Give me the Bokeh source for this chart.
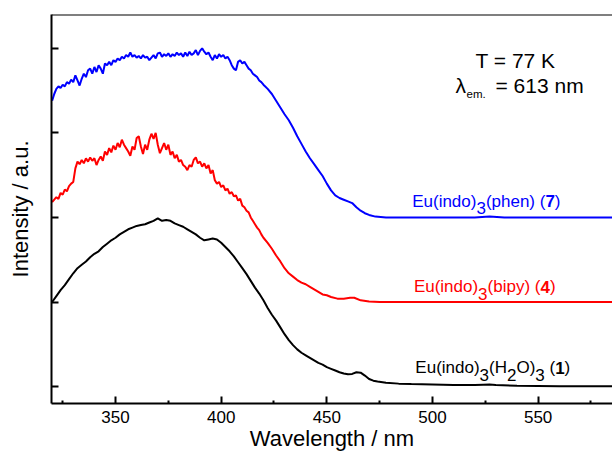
from bokeh.plotting import figure
from bokeh.models import Range1d, FixedTicker, Label, Span
from bokeh.embed import file_html
from bokeh.resources import INLINE

# ---------------- data ----------------
# Eu(indo)3(phen) (7) - blue, offset baseline 2
blue_wl = list(range(320, 421)) + [422, 424, 426, 428, 430, 432, 434, 436, 438, 440,
                                   442, 444, 446, 448, 450, 452, 454, 456, 458, 460,
                                   462, 464, 466, 468, 470, 473, 478, 500, 520, 527, 534, 586]
blue_int = [3.38, 3.46, 3.52, 3.55, 3.53, 3.57, 3.55, 3.60, 3.58, 3.63,
            3.60, 3.68, 3.62, 3.56, 3.64, 3.70, 3.66, 3.74, 3.76, 3.70,
            3.78, 3.72, 3.80, 3.76, 3.70, 3.82, 3.80, 3.84, 3.80, 3.86,
            3.84, 3.88, 3.86, 3.90, 3.88, 3.92, 3.90, 3.95, 3.90, 3.92,
            3.89, 3.91, 3.88, 3.92, 3.89, 3.90, 3.86, 3.89, 3.92, 3.88,
            3.94, 3.95, 3.90, 3.93, 3.91, 3.94, 3.90, 3.93, 3.91, 3.95,
            3.92, 3.94, 3.90, 3.95, 3.91, 3.96, 3.92, 3.94, 3.98, 3.92,
            3.97, 4.00, 3.96, 3.93, 3.95, 3.90, 3.86, 3.92, 3.88, 3.93,
            3.90, 3.92, 3.88, 3.90, 3.86, 3.80, 3.76, 3.74, 3.84, 3.86,
            3.82, 3.84, 3.80, 3.76, 3.74, 3.70, 3.68, 3.66, 3.62, 3.60,
            3.57,
            3.52, 3.46, 3.38, 3.30, 3.22, 3.15, 3.06, 2.96, 2.87, 2.78,
            2.70, 2.63, 2.56, 2.49, 2.40, 2.32, 2.26, 2.23, 2.21, 2.19,
            2.17, 2.12, 2.08, 2.05, 2.03, 2.01, 2.00, 2.00, 2.00, 2.012, 2.00, 2.00]

# Eu(indo)3(bipy) (4) - red, offset baseline 1
red_wl = list(range(320, 421)) + [422, 424, 426, 428, 430, 432, 434, 436, 438, 440,
                                  442, 444, 446, 448, 450, 452, 455, 458, 461, 463,
                                  466, 470, 475, 500, 525, 586]
red_int = [2.18, 2.21, 2.24, 2.22, 2.29, 2.27, 2.33, 2.31, 2.37, 2.40,
           2.42, 2.58, 2.66, 2.63, 2.68, 2.64, 2.70, 2.66, 2.71, 2.67,
           2.70, 2.62, 2.68, 2.72, 2.67, 2.78, 2.74, 2.82, 2.77, 2.85,
           2.80, 2.88, 2.83, 2.92, 2.86, 2.82, 2.78, 2.73, 2.84, 2.80,
           2.94, 2.96, 2.84, 2.75, 2.86, 2.80, 2.92, 2.99, 2.93, 3.00,
           2.86, 2.76, 2.82, 2.88, 2.80, 2.86, 2.74, 2.78, 2.70, 2.74,
           2.66, 2.68, 2.62, 2.60, 2.56, 2.62, 2.60, 2.68, 2.71, 2.64,
           2.66, 2.60, 2.64, 2.58, 2.62, 2.52, 2.56, 2.44, 2.40, 2.42,
           2.36, 2.38, 2.32, 2.34, 2.28, 2.30, 2.25, 2.26, 2.20, 2.22,
           2.14, 2.12, 2.08, 2.06, 2.00, 1.96, 1.92, 1.88, 1.85, 1.80,
           1.76,
           1.70, 1.63, 1.55, 1.48, 1.40, 1.34, 1.30, 1.26, 1.23, 1.21,
           1.18, 1.15, 1.12, 1.09, 1.08, 1.06, 1.04, 1.04, 1.05, 1.05,
           1.02, 1.005, 1.00, 1.00, 1.00, 1.00]

# Eu(indo)3(H2O)3 (1) - black, baseline 0
black_wl = [320, 322, 324, 326, 328, 330, 332, 334, 336, 338,
            340, 342, 344, 346, 348, 350, 352, 354, 356, 358,
            360, 362, 364, 366, 368, 370, 372, 374, 376, 378,
            380, 382, 384, 386, 388, 390, 392, 394, 396, 398,
            400, 402, 404, 406, 408, 410, 412, 414, 416, 418,
            420, 422, 424, 426, 428, 430, 432, 434, 436, 438,
            440, 442, 444, 446, 448, 450, 452, 454, 456, 458,
            460, 462, 464, 466, 468, 470, 472, 474, 478, 484,
            490, 500, 510, 520, 524, 527, 530, 540, 560, 586]
black_int = [1.00, 1.07, 1.14, 1.20, 1.27, 1.34, 1.40, 1.44, 1.48, 1.53,
             1.57, 1.60, 1.65, 1.69, 1.73, 1.76, 1.80, 1.83, 1.86, 1.88,
             1.90, 1.91, 1.92, 1.94, 1.96, 1.99, 1.96, 1.97, 1.96, 1.93,
             1.91, 1.89, 1.86, 1.83, 1.80, 1.76, 1.73, 1.74, 1.75, 1.74,
             1.70, 1.65, 1.60, 1.54, 1.47, 1.40, 1.33, 1.25, 1.17, 1.10,
             1.02, 0.93, 0.85, 0.78, 0.70, 0.62, 0.55, 0.49, 0.44, 0.40,
             0.37, 0.34, 0.31, 0.28, 0.26, 0.23, 0.21, 0.19, 0.17, 0.155,
             0.145, 0.15, 0.17, 0.165, 0.13, 0.09, 0.07, 0.06, 0.045, 0.035,
             0.03, 0.025, 0.02, 0.018, 0.022, 0.024, 0.018, 0.01, 0.005, 0.003]

x_major = [350, 400, 450, 500, 550]
x_minor = [325, 375, 425, 475, 525, 575]
y_major = [0, 1, 2, 3, 4]

FONT = "Liberation Sans"

# ---------------- figure ----------------
p = figure(width=612, height=455, output_backend="svg", toolbar_location=None,
           x_range=Range1d(319.7, 585.2), y_range=Range1d(-0.2, 4.4),
           min_border_left=51, min_border_right=0, min_border_top=14,
           min_border_bottom=52)
p.outline_line_color = None
p.grid.visible = False
p.background_fill_color = "white"
p.border_fill_color = "white"

xa = p.xaxis[0]
xa.ticker = FixedTicker(ticks=x_major, minor_ticks=x_minor)
xa.major_tick_in = 7
xa.major_tick_out = 0
xa.minor_tick_in = 3
xa.minor_tick_out = 0
xa.axis_line_width = 2
xa.major_tick_line_width = 2
xa.minor_tick_line_width = 2
xa.axis_line_color = "black"
xa.major_tick_line_color = "black"
xa.minor_tick_line_color = "black"
xa.major_label_text_font = FONT
xa.major_label_text_font_size = "17px"
xa.major_label_text_color = "black"
xa.major_label_standoff = 7
xa.axis_label = "Wavelength / nm"
xa.axis_label_text_font = FONT
xa.axis_label_text_font_size = "22px"
xa.axis_label_text_font_style = "normal"
xa.axis_label_text_color = "black"
xa.axis_label_standoff = 0

ya = p.yaxis[0]
ya.ticker = FixedTicker(ticks=y_major, minor_ticks=[])
ya.major_tick_in = 7
ya.major_tick_out = 0
ya.minor_tick_in = 0
ya.minor_tick_out = 0
ya.axis_line_width = 2
ya.major_tick_line_width = 2
ya.axis_line_color = "black"
ya.major_tick_line_color = "black"
ya.major_label_overrides = {t: "" for t in y_major}
ya.major_label_standoff = 0
ya.axis_label = "Intensity / a.u."
ya.axis_label_text_font = FONT
ya.axis_label_text_font_size = "22px"
ya.axis_label_text_font_style = "normal"
ya.axis_label_text_color = "black"
ya.axis_label_standoff = 19

# top frame line
p.add_layout(Span(location=4.4, dimension="width", line_color="black", line_width=2))

p.line(black_wl, black_int, line_color="black", line_width=2)
p.line(red_wl, red_int, line_color="#ff0000", line_width=2)
p.line(blue_wl, blue_int, line_color="#0000ff", line_width=2)

# ---------------- texts ----------------
W = {'E': 667, 'u': 556, '(': 333, 'i': 222, 'n': 556, 'd': 556, 'o': 556, ')': 333,
     '3': 556, 'p': 556, 'h': 556, 'e': 556, ' ': 278, '7': 556, 'b': 556, 'y': 500,
     '4': 556, 'H': 722, '2': 556, 'O': 778, '1': 556}


def tw(s, size):
    return sum(W[c] for c in s) / 1000.0 * size


def rich(x, y, parts, color, size=17):
    off = 0.0
    for txt, kind in parts:
        lead = len(txt) - len(txt.lstrip(" "))
        off += tw(" " * lead, size)
        txt = txt.lstrip(" ")
        yo = -7 if kind == "sub" else 0
        p.add_layout(Label(x=x, y=y, x_offset=off, y_offset=yo, text=txt,
                           text_font=FONT, text_font_size=f"{size}px",
                           text_color=color,
                           text_font_style="bold" if kind == "bold" else "normal",
                           text_baseline="alphabetic", text_align="left"))
        off += tw(txt, size)


rich(490.4, 2.193, [("Eu(indo)", "n"), ("3", "sub"), ("(phen) (", "n"), ("7", "bold"), (")", "n")], "#0000ff")
rich(491.2, 1.183, [("Eu(indo)", "n"), ("3", "sub"), ("(bipy) (", "n"), ("4", "bold"), (")", "n")], "#ff0000")
rich(491.9, 0.221, [("Eu(indo)", "n"), ("3", "sub"), ("(H", "n"), ("2", "sub"), ("O)", "n"),
                    ("3", "sub"), (" (", "n"), ("1", "bold"), (")", "n")], "black")

p.add_layout(Label(x=539.3, y=3.858, text="T = 77 K", text_font=FONT, text_font_size="21px",
                   text_color="black", text_align="center", text_baseline="alphabetic"))
p.add_layout(Label(x=510.9, y=3.562, text="λ", text_font=FONT, text_font_size="21px",
                   text_color="black", text_align="left", text_baseline="alphabetic"))
p.add_layout(Label(x=510.9, y=3.562, x_offset=11, y_offset=-9, text="em.", text_font=FONT,
                   text_font_size="11.5px", text_color="black", text_align="left",
                   text_baseline="alphabetic"))
p.add_layout(Label(x=510.9, y=3.562, x_offset=40, text="= 613 nm", text_font=FONT,
                   text_font_size="21px", text_color="black", text_align="left",
                   text_baseline="alphabetic"))

open("out.html", "w").write(file_html(p, INLINE))
